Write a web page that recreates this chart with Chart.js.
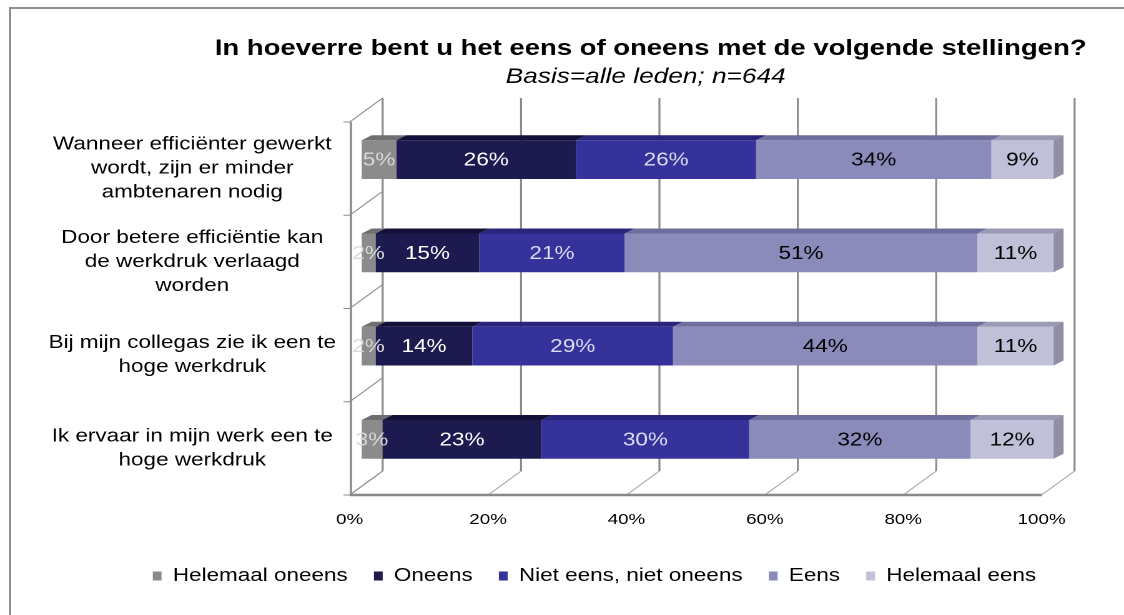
<!doctype html>
<html lang="nl">
<head>
<meta charset="utf-8">
<title>Stellingen</title>
<script src="https://cdn.jsdelivr.net/npm/chart.js@4.4.1/dist/chart.umd.min.js"></script>
<style>
  html, body { margin: 0; padding: 0; background: #fff; overflow: hidden; }
  #kader { position: absolute; left: 9px; top: 7px; width: 1130px; height: 620px; border: 2px solid #8f8f8f; box-sizing: border-box; }
  #wrap { position: absolute; left: 0; top: 0; width: 900px; height: 615px; transform: scaleX(1.2489); transform-origin: 0 0; }
</style>
</head>
<body>
<div id="kader"></div>
<div id="wrap"><canvas id="grafiek" width="900" height="615"></canvas></div>
<script>
// categorieen (van boven naar beneden)
const stellingen = [
  ['Wanneer efficiënter gewerkt', 'wordt, zijn er minder', 'ambtenaren nodig'],
  ['Door betere efficiëntie kan', 'de werkdruk verlaagd', 'worden'],
  ['Bij mijn collegas zie ik een te', 'hoge werkdruk'],
  ['Ik ervaar in mijn werk een te', 'hoge werkdruk']
];

// percentages per antwoord
const helemaalOneens = [5, 2, 2, 3];
const oneens = [26, 15, 14, 23];
const nietEensNietOneens = [26, 21, 29, 30];
const eens = [34, 51, 44, 32];
const helemaalEens = [9, 11, 11, 12];

const xTicks = [0, 20, 40, 60, 80, 100];

const titel = 'In hoeverre bent u het eens of oneens met de volgende stellingen?';
const subtitel = 'Basis=alle leden; n=644';

// kleuren: voorkant, bovenkant, tekst
const series = [
  { label: 'Helemaal oneens', data: helemaalOneens, kleur: '#8b8b8b', boven: '#6f6f6f', tekst: '#d9d9d9' },
  { label: 'Oneens', data: oneens, kleur: '#1c1a4f', boven: '#131138', tekst: '#ffffff' },
  { label: 'Niet eens, niet oneens', data: nietEensNietOneens, kleur: '#35339b', boven: '#28267c', tekst: '#dcdcf2' },
  { label: 'Eens', data: eens, kleur: '#8a8abb', boven: '#6e6e9c', tekst: '#000000' },
  { label: 'Helemaal eens', data: helemaalEens, kleur: '#c0c0d9', boven: '#9a9ab6', tekst: '#000000' }
];

const DX = 26.4, DY = 24;     // diepte van de wanden
const BX = 9.6, BY = -9;      // balken in het midden van de diepte
const FX = 8, FY = 5;         // dikte van de balk-bovenkant

Chart.defaults.font.family = "'Liberation Sans', Arial, sans-serif";
Chart.defaults.color = '#000';

const wanden = {
  id: 'wanden',
  afterLayout(chart) {
    // legenda iets naar rechts, zoals in het origineel
    chart.legend.left += 13;
    chart.legend.right += 13;
  },
  beforeDatasetsDraw(chart) {
    const { ctx, chartArea: a, scales: { x } } = chart;
    ctx.save();
    // vloer-diagonalen
    ctx.strokeStyle = '#a8a8a8';
    ctx.lineWidth = 1;
    xTicks.forEach(v => {
      const px = x.getPixelForValue(v);
      ctx.beginPath(); ctx.moveTo(px, a.bottom); ctx.lineTo(px + DX, a.bottom - DY); ctx.stroke();
    });
    // achterwand
    ctx.strokeStyle = '#8c8c8c';
    ctx.lineWidth = 1.6;
    xTicks.forEach(v => {
      const px = x.getPixelForValue(v) + DX;
      ctx.beginPath(); ctx.moveTo(px, a.top - DY); ctx.lineTo(px, a.bottom - DY); ctx.stroke();
    });
    // zijwand
    const n = stellingen.length;
    ctx.lineWidth = 1;
    ctx.strokeStyle = '#8c8c8c';
    for (let i = 0; i <= n; i++) {
      const py = a.top + i * (a.bottom - a.top) / n;
      ctx.beginPath(); ctx.moveTo(a.left, py); ctx.lineTo(a.left + DX, py - DY); ctx.stroke();
      ctx.beginPath(); ctx.moveTo(a.left - 5, py); ctx.lineTo(a.left, py); ctx.stroke();
    }
    ctx.lineWidth = 1.8;
    ctx.beginPath(); ctx.moveTo(a.left + 1, a.top); ctx.lineTo(a.left + 1, a.bottom); ctx.stroke();
    // vloerlijn
    ctx.lineWidth = 2.5;
    ctx.strokeStyle = '#888';
    ctx.beginPath(); ctx.moveTo(a.left, a.bottom); ctx.lineTo(a.right, a.bottom); ctx.stroke();
    ctx.restore();

    ctx.save();
    ctx.translate(BX, BY);
  },
  afterDatasetsDraw(chart) {
    const { ctx } = chart;
    const last = series.length - 1;
    series.forEach((s, i) => {
      chart.getDatasetMeta(i).data.forEach(el => {
        const top = el.y - el.height / 2;
        ctx.fillStyle = s.boven;
        ctx.beginPath();
        ctx.moveTo(el.base, top);
        ctx.lineTo(el.base + FX, top - FY);
        ctx.lineTo(el.x + FX, top - FY);
        ctx.lineTo(el.x, top);
        ctx.closePath(); ctx.fill();
        if (i === last) {
          ctx.fillStyle = '#8e8ea4';
          ctx.beginPath();
          ctx.moveTo(el.x, top);
          ctx.lineTo(el.x + FX, top - FY);
          ctx.lineTo(el.x + FX, top + el.height - FY);
          ctx.lineTo(el.x, top + el.height);
          ctx.closePath(); ctx.fill();
        }
      });
    });
    ctx.font = "18px 'Liberation Sans', Arial, sans-serif";
    ctx.textAlign = 'center';
    ctx.textBaseline = 'middle';
    series.forEach((s, i) => {
      ctx.fillStyle = s.tekst;
      chart.getDatasetMeta(i).data.forEach((el, j) => {
        ctx.fillText(s.data[j] + '%', (el.x + el.base) / 2, el.y + 1);
      });
    });
    ctx.restore();
  },
  afterDraw(chart) {
    const { ctx } = chart;
    ctx.save();
    ctx.fillStyle = '#000';
    ctx.textAlign = 'center';
    ctx.textBaseline = 'middle';
    ctx.font = "bold 22px 'Liberation Sans', Arial, sans-serif";
    ctx.fillText(titel, 521, 49);
    ctx.font = "italic 21px 'Liberation Sans', Arial, sans-serif";
    ctx.fillText(subtitel, 517, 77);
    ctx.restore();
  }
};

new Chart(document.getElementById('grafiek'), {
  type: 'bar',
  data: {
    labels: stellingen,
    datasets: series.map(s => ({
      label: s.label,
      data: s.data,
      backgroundColor: s.kleur,
      borderWidth: 0,
      clip: false,
      barPercentage: 0.415,
      categoryPercentage: 1
    }))
  },
  options: {
    indexAxis: 'y',
    responsive: false,
    animation: false,
    devicePixelRatio: 2,
    layout: { padding: { left: 36, right: 10, top: 122, bottom: 20 } },
    scales: {
      x: {
        stacked: true,
        min: 0,
        max: 100,
        grid: { display: false, drawTicks: false },
        border: { display: false },
        ticks: { stepSize: 20, padding: 16, font: { size: 15 }, callback: v => v + '%' },
        afterFit: s => { s.height = 51; }
      },
      y: {
        stacked: true,
        grid: { display: false, drawTicks: false },
        border: { display: false },
        ticks: { crossAlign: 'center', padding: 11, font: { size: 18, lineHeight: 1.33 } },
        afterFit: s => { s.width = 244; }
      },
      yR: {
        type: 'category',
        position: 'right',
        labels: stellingen.map(() => ''),
        grid: { display: false },
        border: { display: false },
        ticks: { display: false },
        afterFit: s => { s.width = 56; }
      }
    },
    plugins: {
      legend: {
        position: 'bottom',
        labels: { boxWidth: 7, boxHeight: 9, padding: 21, font: { size: 18 } }
      },
      tooltip: { enabled: false }
    }
  },
  plugins: [wanden]
});
</script>
</body>
</html>
